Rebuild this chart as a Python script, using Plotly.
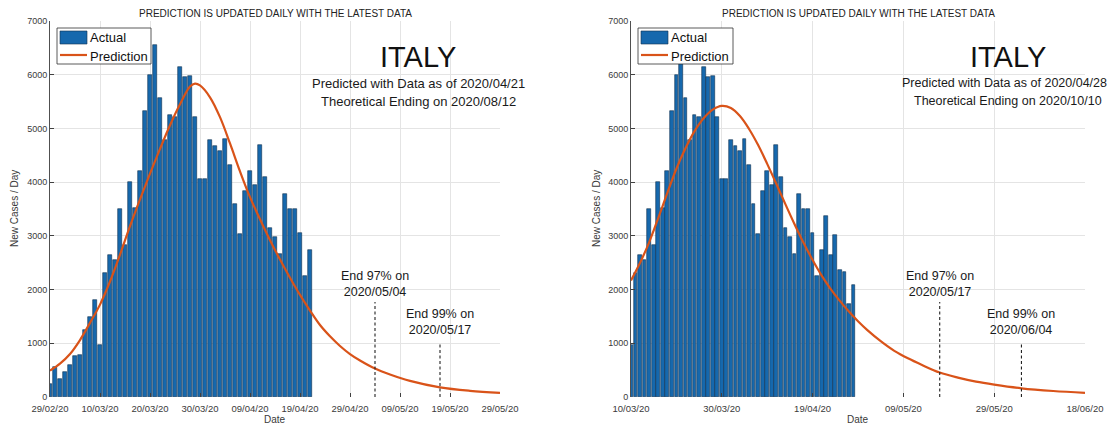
import pandas as pd
import plotly.graph_objects as go

W, H = 1111, 425

# ---------------- data ----------------
left_dates = pd.date_range("2020-02-29", "2020-04-21", freq="D")
left_actual = [238, 566, 342, 466, 587, 769, 778, 1247, 1492, 1797,
               977, 2313, 2651, 2547, 3497, 2823, 4000, 3526, 4207, 5322,
               5986, 6557, 5560, 4789, 5249, 5210, 6153, 5959, 5974, 5217,
               4050, 4053, 4782, 4668, 4585, 4805, 4316, 3599, 3039, 3836,
               4204, 3951, 4694, 4092, 3153, 2972, 2667, 3786, 3493, 3491,
               3047, 2256, 2729]

right_dates = pd.date_range("2020-03-10", "2020-04-28", freq="D")
right_actual = [977, 2313, 2651, 2547, 3497, 2823, 4000, 3526, 4207, 5322,
                5986, 6557, 5560, 4789, 5249, 5210, 6153, 5959, 5974, 5217,
                4050, 4053, 4782, 4668, 4585, 4805, 4316, 3599, 3039, 3836,
                4204, 3951, 4694, 4092, 3153, 2972, 2667, 3786, 3493, 3491,
                3047, 2256, 2729, 3370, 2646, 3021, 2357, 2324, 1739, 2091]

# prediction curves: day offsets from first axis date, predicted new cases/day
left_pred_days = [0, 2, 4, 6, 8, 10, 12, 14, 16, 18, 20, 22, 24, 26, 28, 29, 30,
                  32, 34, 36, 38, 40, 42, 44, 46, 48, 50, 52, 54, 56, 58, 60,
                  62, 65, 68, 72, 78, 84, 90]
left_pred_vals = [490, 620, 800, 1060, 1380, 1720, 2150, 2650, 3180, 3680, 4160,
                  4620, 5060, 5450, 5780, 5835, 5800, 5580, 5210, 4720, 4200,
                  3720, 3310, 2920, 2560, 2220, 1900, 1610, 1340, 1130, 950, 800,
                  680, 530, 420, 300, 180, 115, 75]

right_pred_days = [0, 2, 4, 6, 8, 10, 12, 14, 16, 18, 20, 22, 24, 26, 28, 30, 32,
                   34, 36, 38, 40, 42, 44, 46, 48, 50, 52, 55, 58, 61, 64, 68,
                   72, 76, 80, 86, 93, 100]
right_pred_vals = [2170, 2500, 2880, 3330, 3800, 4250, 4630, 4950, 5190, 5350,
                   5420, 5380, 5230, 4990, 4690, 4340, 3970, 3590, 3220, 2870,
                   2550, 2260, 2010, 1790, 1590, 1410, 1250, 1040, 860, 720, 600,
                   455, 360, 285, 230, 162, 112, 78]

left_end_dates = ["2020-05-04", "2020-05-17"]
right_end_dates = ["2020-05-17", "2020-06-04"]
end_labels = ["End 97% on", "End 99% on"]
end_heights = [1770, 1000]

left_data_date = "2020/04/21"
left_theo_end = "2020/08/12"
right_data_date = "2020/04/28"
right_theo_end = "2020/10/10"

BAR = "#1668ad"
EDGE = "#10304f"
LINE = "#D95319"
FONT = "Arial, Liberation Sans, Helvetica, sans-serif"

panels = [
    dict(xa="x", ya="y", xname="xaxis", yname="yaxis",
         dates=left_dates, actual=left_actual,
         pdays=left_pred_days, pvals=left_pred_vals,
         start="2020-02-29", end="2020-05-29", dtick=10,
         dom=(50, 500), ends=left_end_dates,
         data_date=left_data_date, theo=left_theo_end,
         ytitle_x=15, text_cx=418, pred_cx=418, info_size=13),
    dict(xa="x2", ya="y2", xname="xaxis2", yname="yaxis2",
         dates=right_dates, actual=right_actual,
         pdays=right_pred_days, pvals=right_pred_vals,
         start="2020-03-10", end="2020-06-18", dtick=20,
         dom=(631, 1085), ends=right_end_dates,
         data_date=right_data_date, theo=right_theo_end,
         ytitle_x=597, text_cx=1008, pred_cx=1004, info_size=12.5),
]

Y_TOP, Y_BOT = 21, 397


def px(x):
    return x / W


def py(y):
    return 1 - y / H


def note(x, y, text, size, color="#1a1a1a", anchor="center", **kw):
    return dict(x=px(x), y=py(y), xref="paper", yref="paper", showarrow=False,
                xanchor=anchor, yanchor="middle", text=text,
                font=dict(family=FONT, size=size, color=color), **kw)


fig = go.Figure()
annotations = []
shapes = []
layout = {}

for i, p in enumerate(panels):
    start = pd.Timestamp(p["start"])
    fig.add_trace(go.Bar(
        x=p["dates"], y=p["actual"], xaxis=p["xa"], yaxis=p["ya"],
        width=0.82 * 86400000, marker=dict(color=BAR, line=dict(color=EDGE, width=0.6)),
        name="Actual", showlegend=False))
    pred_x = [start + pd.Timedelta(days=d) for d in p["pdays"]]
    fig.add_trace(go.Scatter(
        x=pred_x, y=p["pvals"], xaxis=p["xa"], yaxis=p["ya"], mode="lines",
        line=dict(color=LINE, width=2.2, shape="spline", smoothing=1.0),
        name="Prediction", showlegend=False))
    for d, h in zip(p["ends"], end_heights):
        fig.add_trace(go.Scatter(
            x=[d, d], y=[0, h], xaxis=p["xa"], yaxis=p["ya"], mode="lines",
            line=dict(color="#222222", width=1.1, dash="3px,2.5px"),
            showlegend=False, hoverinfo="skip"))
    for d, lab, h, ysh in zip(p["ends"], end_labels, end_heights, [1, 4]):
        annotations.append(dict(
            x=d, y=h, xref=p["xa"], yref=p["ya"], xanchor="center", yanchor="bottom",
            yshift=ysh, showarrow=False, align="center",
            text=f"{lab}<br>{d.replace('-', '/')}",
            font=dict(family=FONT, size=12.5, color="#1a1a1a")))

    x0, x1 = p["dom"]
    layout[p["xname"]] = dict(
        domain=[px(x0), px(x1)], anchor=p["ya"], type="date", automargin=False,
        range=[p["start"], p["end"]], tick0=p["start"], dtick=p["dtick"] * 86400000,
        tickformat="%d/%m/%y", showgrid=True, gridcolor="#e4e4e4", gridwidth=1,
        ticks="inside", ticklen=4, tickcolor="#404040", showline=False,
        zeroline=False, ticklabelstandoff=4,
        tickfont=dict(family=FONT, size=9.5, color="#3a3a3a"))
    layout[p["yname"]] = dict(
        domain=[py(Y_BOT), py(Y_TOP)], anchor=p["xa"], range=[0, 7000], dtick=1000,
        automargin=False,
        showgrid=True, gridcolor="#e4e4e4", gridwidth=1, ticks="inside", ticklen=4,
        tickcolor="#404040", showline=True, linecolor="#505050", linewidth=1,
        zeroline=False, tickfont=dict(family=FONT, size=9, color="#3a3a3a"))

    cx = (x0 + x1) / 2
    annotations += [
        note(cx, 13, "PREDICTION IS UPDATED DAILY WITH THE LATEST DATA", 10, "#222222"),
        note(cx, 419, "Date", 10, "#3a3a3a"),
        note(p["ytitle_x"], (Y_TOP + Y_BOT) / 2, "New Cases / Day", 10, "#3a3a3a",
             textangle=-90),
        note(p["text_cx"], 57, "ITALY", 29, "#111111"),
        note(p["pred_cx"], 83, f"Predicted with Data as of {p['data_date']}",
             p["info_size"]),
        note(p["text_cx"], 101, f"Theoretical Ending on {p['theo']}", p["info_size"]),
    ]

    # legend box
    lx0 = x0 + 7
    lx1 = lx0 + (94 if i == 0 else 95)
    shapes += [
        dict(type="rect", xref="paper", yref="paper", x0=px(lx0), x1=px(lx1),
             y0=py(64), y1=py(28), line=dict(color="#303030", width=0.8),
             fillcolor="white", layer="above"),
        dict(type="rect", xref="paper", yref="paper", x0=px(lx0 + 3), x1=px(lx0 + 30),
             y0=py(44), y1=py(31), line=dict(color=EDGE, width=0.6),
             fillcolor=BAR, layer="above"),
        dict(type="line", xref="paper", yref="paper", x0=px(lx0 + 3), x1=px(lx0 + 30),
             y0=py(55), y1=py(55), line=dict(color=LINE, width=2.2), layer="above"),
    ]
    annotations += [
        note(lx0 + 31, 38, "Actual", 13, "#111111", anchor="left"),
        note(lx0 + 31, 56, "Prediction", 13, "#111111", anchor="left"),
    ]

fig.update_layout(
    width=W, height=H, margin=dict(l=0, r=0, t=0, b=0, autoexpand=False),
    paper_bgcolor="white", plot_bgcolor="white", bargap=0,
    annotations=annotations, shapes=shapes, showlegend=False,
    font=dict(family=FONT), **layout)

fig.write_html("out.html", config={"displayModeBar": False},
               post_script="document.body.style.margin='0';")
